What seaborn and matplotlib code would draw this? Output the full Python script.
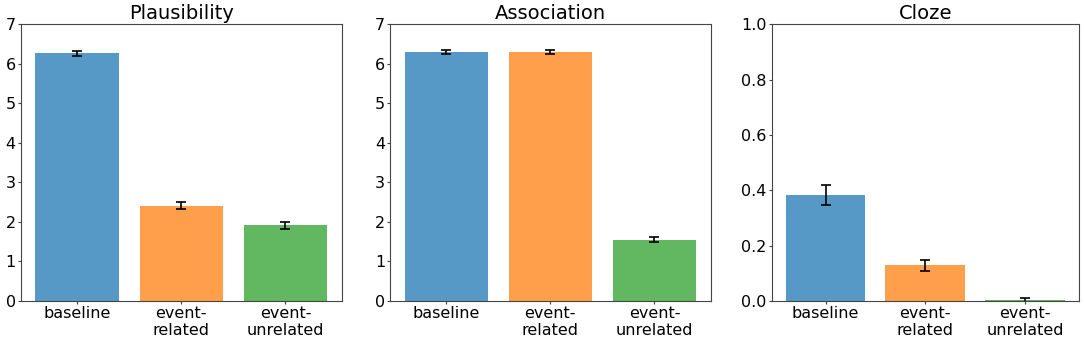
import numpy as np
import pandas as pd
import matplotlib
matplotlib.use("Agg")
import matplotlib.pyplot as plt
import seaborn as sns

conditions = ['baseline', 'event-\nrelated', 'event-\nunrelated']
colors = ['tab:blue', 'tab:orange', 'tab:green']

plaus_mean = [6.27, 2.41, 1.92]
plaus_err = [0.06, 0.09, 0.09]
assoc_mean = [6.30, 6.30, 1.55]
assoc_err = [0.05, 0.05, 0.06]
cloze_mean = [0.383, 0.129, 0.005]
cloze_err = [0.035, 0.021, 0.007]

panels = [
    ('Plausibility', plaus_mean, plaus_err, (0, 7)),
    ('Association', assoc_mean, assoc_err, (0, 7)),
    ('Cloze', cloze_mean, cloze_err, (0, 1)),
]

plt.rcParams['font.family'] = ['DejaVu Sans']
fig = plt.figure(figsize=(10.84, 3.43), dpi=100)

# axes boxes in figure fractions (left, bottom, width, height)
boxes = [
    [0.0191, 0.1224, 0.2961, 0.8067],
    [0.3598, 0.1224, 0.2958, 0.8067],
    [0.7119, 0.1224, 0.2835, 0.8067],
]

for (title, means, errs, ylim), box in zip(panels, boxes):
    ax = fig.add_axes(box)
    df = pd.DataFrame({'condition': conditions, 'value': means})
    sns.barplot(data=df, x='condition', y='value', hue='condition',
                palette=colors, alpha=0.75, saturation=1, errorbar=None,
                legend=False, width=0.8, ax=ax)
    ax.errorbar(np.arange(len(means)), means, yerr=errs, fmt='none',
                ecolor='black', elinewidth=1.2, capsize=3.5, capthick=1.2)
    ax.set_ylim(*ylim)
    ax.set_xlim(-0.54, 2.54)
    ax.set_title(title, fontsize=14, pad=4)
    ax.set_xlabel('')
    ax.set_ylabel('')
    ax.tick_params(labelsize=11.5, length=2, pad=1.5, color='#444444')
    for s in ax.spines.values():
        s.set_color('#444444')

fig.savefig('out.png', dpi=100)
